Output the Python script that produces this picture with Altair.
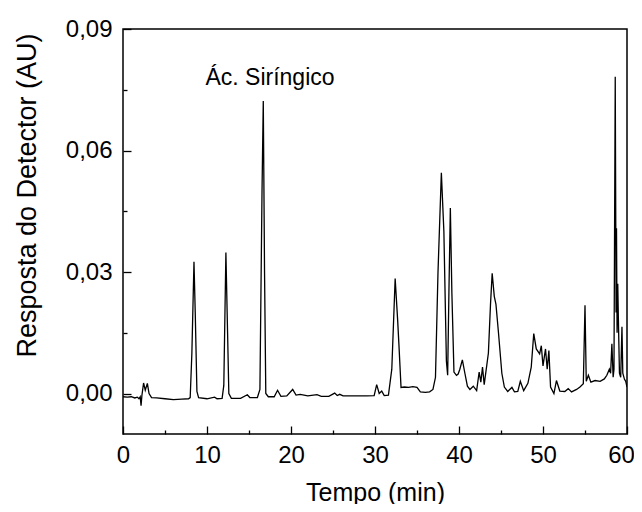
import altair as alt
import pandas as pd

# Chromatogram trace
times = [0.0, 0.5, 1.0, 1.4, 1.7, 1.9, 2.05, 2.15, 2.25, 2.45, 2.65, 2.9, 3.1, 3.4, 4.0, 5.0, 6.0, 7.0, 7.8,
         8.0, 8.2, 8.45, 8.6, 8.8, 9.0, 10.0, 10.9, 11.2, 11.8, 12.0, 12.25, 12.45, 12.6, 12.9, 14.0, 14.8,
         15.1, 16.0, 16.3, 16.55, 16.7, 16.85, 17.0, 17.3, 18.0, 18.4, 18.8, 19.5, 20.2, 20.6, 21.1, 22.0,
         23.1, 23.6, 24.5, 25.2, 25.5, 25.8, 26.2, 27.5, 29.0, 29.9, 30.2, 30.5, 30.8, 31.1, 31.6, 32.0,
         32.4, 32.7, 32.85, 33.1, 33.5, 34.0, 34.5, 35.0, 35.4, 36.0, 36.5, 36.9, 37.2, 37.5, 37.9, 38.2,
         38.5, 38.65, 38.8, 38.97, 39.15, 39.4, 39.7, 39.9, 40.1, 40.4, 40.7, 41.0, 41.3, 41.7, 42.1, 42.4,
         42.6, 42.8, 43.0, 43.5, 43.75, 43.95, 44.2, 44.4, 44.7, 45.1, 45.4, 45.8, 46.3, 46.6, 47.0, 47.3,
         47.7, 48.2, 48.6, 48.9, 49.2, 49.6, 49.8, 50.0, 50.3, 50.5, 50.7, 50.9, 51.3, 51.6, 52.0, 52.6,
         53.0, 53.4, 54.0, 54.4, 54.8, 55.0, 55.15, 55.4, 55.7, 56.2, 56.8, 57.3, 57.6, 57.9, 58.05, 58.2,
         58.35, 58.45, 58.6, 58.7, 58.75, 58.82, 58.9, 58.97, 59.1, 59.25, 59.4, 59.5, 59.7, 59.85, 60.0]
values = [-0.0008, -0.0009, -0.0008, -0.0011, -0.0009, -0.0013, -0.0008, -0.0030, -0.0005, 0.0026, 0.0008,
          0.0025, 0.0000, -0.0010, -0.0011, -0.0013, -0.0015, -0.0014, -0.0013,
          -0.0010, 0.0100, 0.0325, 0.0200, 0.0005, -0.0010, -0.0013, -0.0009, -0.0013, -0.0012, 0.0020,
          0.0348, 0.0150, 0.0000, -0.0012, -0.0012, -0.0003,
          -0.0010, -0.0010, 0.0010, 0.0500, 0.0722, 0.0300, 0.0000, -0.0008, -0.0008, 0.0008, -0.0007,
          -0.0006, 0.0010, -0.0004, -0.0002, -0.0006,
          -0.0003, -0.0007, -0.0007, 0.0001, -0.0005, -0.0002, -0.0006, -0.0006, -0.0006, -0.0005, 0.0022,
          0.0000, 0.0006, -0.0005, -0.0004, 0.0060,
          0.0284, 0.0180, 0.0120, 0.0015, 0.0016, 0.0015, 0.0017, 0.0015, 0.0004, 0.0003, 0.0004, 0.0010,
          0.0040, 0.0300, 0.0545, 0.0400,
          0.0080, 0.0045, 0.0250, 0.0458, 0.0250, 0.0053, 0.0045, 0.0048, 0.0060, 0.0083, 0.0050, 0.0018,
          0.0010, 0.0018, 0.0007, 0.0053,
          0.0028, 0.0065, 0.0022, 0.0100, 0.0220, 0.0297, 0.0240, 0.0220, 0.0150, 0.0050, 0.0016, 0.0005,
          0.0015, 0.0004, 0.0005, 0.0030,
          0.0007, 0.0025, 0.0065, 0.0148, 0.0110, 0.0098, 0.0118, 0.0068, 0.0110, 0.0060, 0.0106, 0.0016,
          0.0000, 0.0032, 0.0006, 0.0005,
          0.0012, 0.0004, 0.0010, 0.0016, 0.0024, 0.0218, 0.0030, 0.0045, 0.0028, 0.0032, 0.0030, 0.0036,
          0.0045, 0.0060, 0.0050, 0.0123,
          0.0040, 0.0060, 0.0782, 0.0200, 0.0408, 0.0150, 0.0271, 0.0189, 0.0050, 0.0040, 0.0165, 0.0050,
          0.0035, 0.0030, 0.0016]

x_major = [0, 10, 20, 30, 40, 50, 60]
x_minor = [5, 15, 25, 35, 45, 55]
y_major = [0.0, 0.03, 0.06, 0.09]
y_minor = [0.015, 0.045, 0.075]
x_domain = [0, 60]
y_domain = [-0.01, 0.09]

ann_labels = ["Ác. Siríngico"]
ann_x = [17.5]
ann_y = [0.0778]

W, H = 504, 405
FONT = "Arial"
MAJ, MIN = 8, 4

df = pd.DataFrame({"t": times, "v": values})
ann = pd.DataFrame({"label": ann_labels, "x": ann_x, "y": ann_y})

xs = alt.Scale(domain=x_domain, nice=False, zero=False)
ys = alt.Scale(domain=y_domain, nice=False, zero=False)

x_axis = alt.Axis(
    values=x_major, orient="bottom", offset=-MAJ,
    ticks=True, tickSize=MAJ, tickWidth=1.3, tickColor="black",
    domain=False, grid=False,
    labelFont=FONT, labelFontSize=24, labelColor="black", labelPadding=9,
    labelOverlap=False, labelFlush=False,
    labelOffset={"condition": {"test": "datum.value === 60", "value": -6}, "value": 0},
    title="Tempo (min)", titleFont=FONT, titleFontSize=25, titleFontWeight="normal",
    titleColor="black", titleY=66, titleBaseline="middle",
)
y_axis = alt.Axis(
    values=y_major, orient="left", offset=-MAJ,
    labelExpr="replace(format(datum.value, '.2f'), '.', ',')",
    ticks=True, tickSize=MAJ, tickWidth=1.3, tickColor="black",
    domain=False, grid=False,
    labelFont=FONT, labelFontSize=24, labelColor="black", labelPadding=11,
    labelOverlap=False, labelFlush=False,
    title="Resposta do Detector (AU)", titleFont=FONT, titleFontSize=27, titleFontWeight="normal",
    titleColor="black", titleX=-104, titleY=166, titleAngle=270, titleAlign="center",
    titleBaseline="middle",
)
x_minor_axis = alt.Axis(
    values=x_minor, orient="bottom", offset=-MIN,
    ticks=True, tickSize=MIN, tickWidth=1.3, tickColor="black",
    domain=False, grid=False, labels=False, title=None,
)
y_minor_axis = alt.Axis(
    values=y_minor, orient="left", offset=-MIN,
    ticks=True, tickSize=MIN, tickWidth=1.3, tickColor="black",
    domain=False, grid=False, labels=False, title=None,
)

line = alt.Chart(df).mark_line(color="black", strokeWidth=1.3, clip=True).encode(
    x=alt.X("t:Q", scale=xs, axis=x_axis),
    y=alt.Y("v:Q", scale=ys, axis=y_axis),
)

text = alt.Chart(ann).mark_text(font=FONT, fontSize=23, color="black").encode(
    x=alt.X("x:Q", scale=xs, axis=x_minor_axis),
    y=alt.Y("y:Q", scale=ys, axis=y_minor_axis),
    text="label:N",
)

chart = alt.layer(line, text).resolve_axis(x="independent", y="independent").properties(
    width=W, height=H,
    autosize=alt.AutoSizeParams(type="none"),
    padding={"left": 115, "top": 21, "right": 7, "bottom": 70},
).configure_view(stroke="black", strokeWidth=1.5)

chart.save("out.html", embed_options={"renderer": "svg", "actions": False})
